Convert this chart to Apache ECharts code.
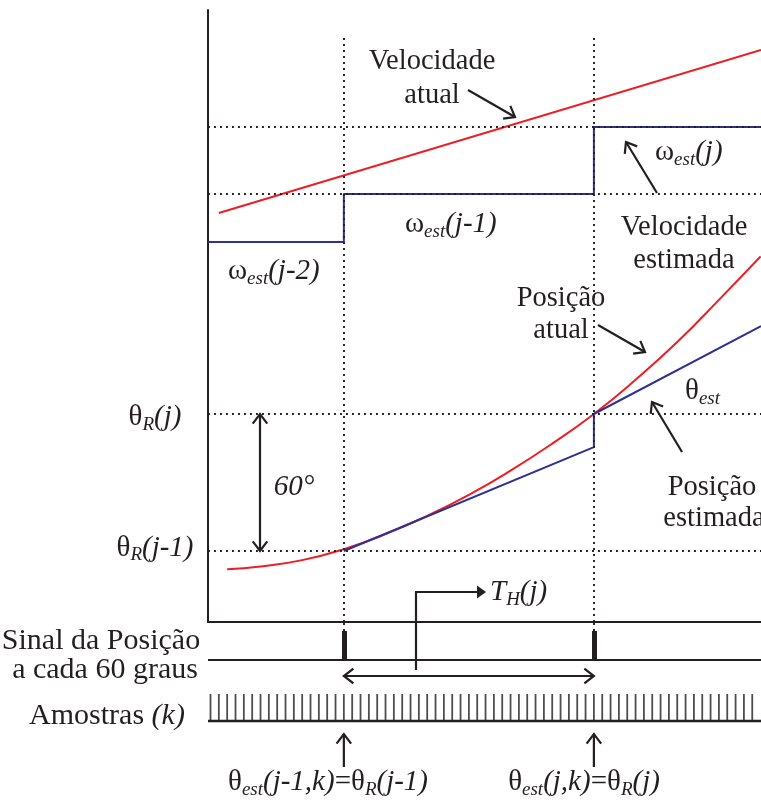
<!DOCTYPE html>
<html><head><meta charset="utf-8">
<script src="https://cdn.jsdelivr.net/npm/echarts@6/dist/echarts.min.js"></script>
<style>html,body{margin:0;padding:0;background:#fff}#c{width:761px;height:808px}</style>
</head><body><div id="c"></div>
<script>
// time axis in sample units k (60-degree pulses at k = 0 and k = 30)
const kLeft = -16.3, kRight = 50.05;
// velocity (arbitrary units)
const velRealK = [-15, 50.05];
const velReal = [40.9, 57.2];
const velEstEdges = [-16.3, 0, 30, 50.05];
const velEstLevels = [38.0, 42.8, 49.5];
// position (degrees, relative to thetaR(j-1))
const posRealK = [-14, -10, -5, 0, 5, 10, 15, 20, 25, 30, 35, 40, 45, 50];
const posReal  = [-8, -6.8, -4, 0.8, 7.4, 15.4, 24.6, 35.2, 47, 60, 75, 91.5, 110, 129];
const posEstK = [0, 30, 30, 50.05];
const posEst  = [0, 45.5, 60, 98.5];
const thetaLevels = [0, 60];
const pulseK = [0, 30];
const sampleK = [-16,-15,-14,-13,-12,-11,-10,-9,-8,-7,-6,-5,-4,-3,-2,-1,
  0,1,2,3,4,5,6,7,8,9,10,11,12,13,14,15,16,17,18,19,20,21,22,23,24,25,26,27,28,29,
  30,31,32,33,34,35,36,37,38,39,40,41,42,43,44,45,46,47,48,49];

const INK = '#231f20', RED = '#ee1d23', BLUE = '#2e3192';
const FONT = '"Liberation Serif", "Times New Roman", serif';
const thMin = -31.1, thMax = 236.95;

const chart = echarts.init(document.getElementById('c'), null, {renderer: 'canvas'});

const velEstData = [];
for (let i = 0; i < velEstLevels.length; i++) {
  velEstData.push([velEstEdges[i], velEstLevels[i]]);
  velEstData.push([velEstEdges[i + 1], velEstLevels[i]]);
}
const dotted = {color: INK, width: 1.9, type: [1.9, 4.1]};

chart.setOption({
  animation: false,
  backgroundColor: '#fff',
  grid: [
    {left: 208, right: 0, top: 10, bottom: 186},
    {left: 208, right: 0, top: 622, bottom: 86}
  ],
  xAxis: [
    {type: 'value', gridIndex: 0, min: kLeft, max: kRight,
     axisLine: {show: true, onZero: false, lineStyle: {color: INK, width: 2}},
     axisTick: {show: false}, axisLabel: {show: false}, splitLine: {show: false}},
    {type: 'value', gridIndex: 1, min: kLeft, max: kRight, show: false}
  ],
  yAxis: [
    {type: 'value', gridIndex: 0, min: thMin, max: thMax,
     axisLine: {show: true, onZero: false, lineStyle: {color: INK, width: 2}},
     axisTick: {show: false}, axisLabel: {show: false}, splitLine: {show: false}},
    {type: 'value', gridIndex: 0, min: 0, max: 61.2, show: false},
    {type: 'value', gridIndex: 1, min: 0, max: 100, show: false}
  ],
  series: [
    {type: 'line', name: 'Velocidade estimada', xAxisIndex: 0, yAxisIndex: 1,
     data: velEstData, symbol: 'none', lineStyle: {color: BLUE, width: 2}, z: 3,
     markLine: {silent: true, symbol: ['none', 'none'], label: {show: false}, lineStyle: dotted,
       data: [{yAxis: velEstLevels[1]}, {yAxis: velEstLevels[2]}]}},
    {type: 'line', name: 'Velocidade atual', xAxisIndex: 0, yAxisIndex: 1,
     data: velRealK.map((k, i) => [k, velReal[i]]), symbol: 'none',
     lineStyle: {color: RED, width: 2}, z: 3},
    {type: 'line', name: 'Posição atual', xAxisIndex: 0, yAxisIndex: 0, smooth: true,
     data: posRealK.map((k, i) => [k, posReal[i]]), symbol: 'none',
     lineStyle: {color: RED, width: 2}, z: 3},
    {type: 'line', name: 'Posição estimada', xAxisIndex: 0, yAxisIndex: 0,
     data: posEstK.map((k, i) => [k, posEst[i]]), symbol: 'none',
     lineStyle: {color: BLUE, width: 2}, z: 4,
     markLine: {silent: true, symbol: ['none', 'none'], label: {show: false}, lineStyle: dotted,
       data: thetaLevels.map(v => ({yAxis: v})).concat(
         pulseK.map(k => [{coord: [k, thMin]}, {coord: [k, 224.7]}]))}},
    {type: 'line', name: 'Sinal', xAxisIndex: 1, yAxisIndex: 2,
     data: [[kLeft, 62], [kRight, 62]], symbol: 'none', lineStyle: {color: INK, width: 2},
     markLine: {silent: true, symbol: ['none', 'none'], label: {show: false},
       data: pulseK.map(k => [{coord: [k, 62], lineStyle: {color: INK, width: 5, type: 'solid', cap: 'butt'}}, {coord: [k, 91]}])
         .concat(pulseK.map(k => [{coord: [k, 91], lineStyle: dotted}, {coord: [k, 100]}]))}},
    {type: 'line', name: 'Base', xAxisIndex: 1, yAxisIndex: 2,
     data: [[kLeft, 1], [kRight, 1]], symbol: 'none', lineStyle: {color: INK, width: 2.5}},
    {type: 'scatter', name: 'Amostras', xAxisIndex: 1, yAxisIndex: 2,
     data: sampleK.map(k => [k, 14.5]), symbol: 'rect', symbolSize: [1.8, 27],
     itemStyle: {color: INK}, silent: true}
  ]
});

// ---------- annotations ----------
const P = (k, th) => chart.convertToPixel({xAxisIndex: 0, yAxisIndex: 0}, [k, th]);
const x0 = P(pulseK[0], 0)[0], x30 = P(pulseK[1], 0)[0];
const y0 = P(0, thetaLevels[0])[1], y60 = P(0, thetaLevels[1])[1];

const g = [];
function seg(x1, y1, x2, y2, w) {
  g.push({type: 'line', silent: true, z: 50, shape: {x1, y1, x2, y2}, style: {stroke: INK, lineWidth: w || 2.2}});
}
function head(tx, ty, fx, fy, len, ang) {
  len = len || 12; ang = ang || 0.65;
  const a = Math.atan2(ty - fy, tx - fx);
  g.push({type: 'polyline', silent: true, z: 50, shape: {points: [
    [tx - len * Math.cos(a - ang), ty - len * Math.sin(a - ang)], [tx, ty],
    [tx - len * Math.cos(a + ang), ty - len * Math.sin(a + ang)]]},
    style: {stroke: INK, lineWidth: 2.2, fill: null}});
}
function arrow(x1, y1, x2, y2, both) {
  seg(x1, y1, x2, y2); head(x2, y2, x1, y1);
  if (both) head(x1, y1, x2, y2);
}
const FS = 28.5, SUB = 19;
function rich(fs) {
  fs = fs || FS;
  return {
    n: {fontSize: fs, fontFamily: FONT, fill: INK, lineHeight: 34, verticalAlign: 'middle'},
    i: {fontSize: fs, fontFamily: FONT, fontStyle: 'italic', fill: INK, lineHeight: 34, verticalAlign: 'middle'},
    s: {fontSize: SUB, fontFamily: FONT, fontStyle: 'italic', fill: INK, lineHeight: 14, verticalAlign: 'bottom'}
  };
}
function txt(x, y, text, align, fs, italic) {
  g.push({type: 'text', silent: true, z: 60, style: {text, x, y, align: align || 'center',
    verticalAlign: 'middle', fill: INK, fontSize: fs || FS, fontFamily: FONT,
    fontStyle: italic ? 'italic' : 'normal'}});
}
function rtxt(x, y, text, align, fs) {
  g.push({type: 'text', silent: true, z: 60, style: {text, x, y, align: align || 'center',
    verticalAlign: 'middle', fill: INK, fontSize: fs || FS, fontFamily: FONT, rich: rich(fs)}});
}

// velocity labels
txt(432, 62, 'Velocidade'); txt(432, 96, 'atual');
arrow(468, 90, 515, 117);
rtxt(405, 224, '{n|ω}{s|est}{i|(j-1)}', 'left', 29);
rtxt(228, 271, '{n|ω}{s|est}{i|(j-2)}', 'left', 29);
rtxt(655, 152, '{n|ω}{s|est}{i|(j)}', 'left', 29);
arrow(657, 193, 626, 142);
txt(684, 228, 'Velocidade'); txt(684, 261, 'estimada');
// position labels
txt(561, 299, 'Posição'); txt(561, 331, 'atual');
arrow(598, 325, 645, 352);
rtxt(685, 391, '{n|θ}{s|est}', 'left', 29);
arrow(682, 452, 652, 402);
txt(712, 488, 'Posição'); txt(714, 519, 'estimada');
// 60 degrees
arrow(260, y0, 260, y60, true);
txt(294, 487, '60°', 'center', 29, true);
rtxt(155, y60 + 3, '{n|θ}{s|R}{i|(j)}', 'center', 29);
rtxt(155, y0 - 3, '{n|θ}{s|R}{i|(j-1)}', 'center', 29);
// T_H
seg(416, 670, 416, 592); seg(415, 592, 478, 592);
g.push({type: 'polygon', silent: true, z: 50, shape: {points: [[486, 592], [477, 585.5], [477, 598.5]]}, style: {fill: INK}});
rtxt(490, 592, '{i|T}{s|H}{i|(j)}', 'left', 29);
arrow(x0, 676, x30, 676, true);
// left labels
txt(101, 641, 'Sinal da Posição', 'center', 30);
txt(105, 670, 'a cada 60 graus', 'center', 30);
rtxt(107, 716, '{n|Amostras }{i|(k)}', 'center', 30);
// bottom
arrow(x0, 767, x0, 734);
arrow(x30, 767, x30, 734);
rtxt(328, 782, '{n|θ}{s|est}{i|(j-1,k)}{n|=θ}{s|R}{i|(j-1)}', 'center', 29);
rtxt(584, 782, '{n|θ}{s|est}{i|(j,k)}{n|=θ}{s|R}{i|(j)}', 'center', 29);

chart.setOption({graphic: {elements: g}});
</script></body></html>
